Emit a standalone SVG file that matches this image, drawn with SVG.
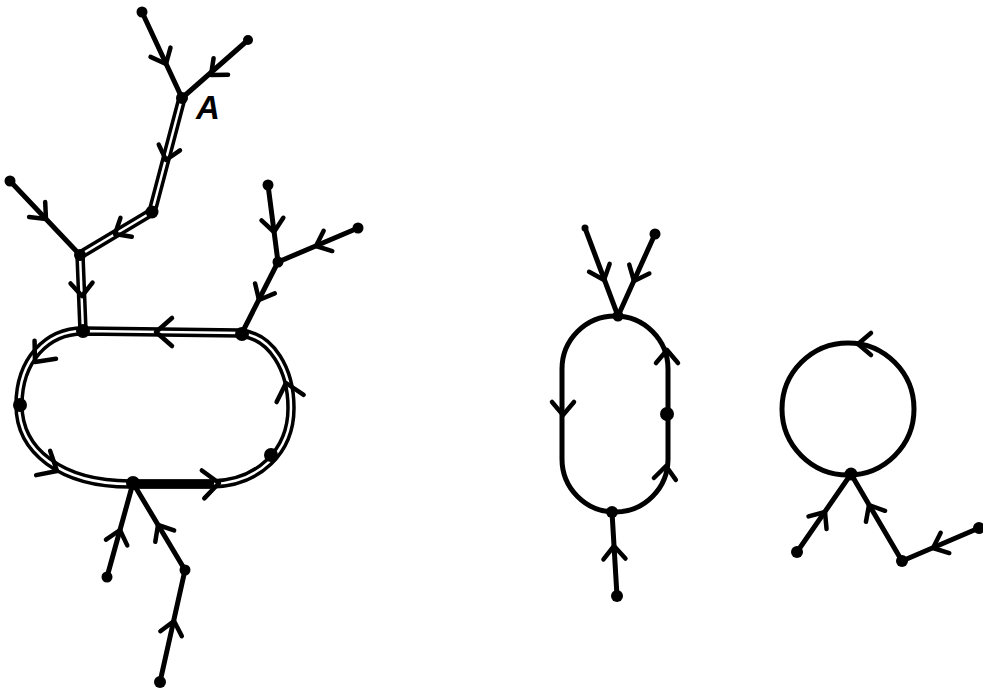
<svg xmlns="http://www.w3.org/2000/svg" width="983" height="692" viewBox="0 0 983 692">
<style>
.e{stroke:#000;stroke-width:5;fill:none;stroke-linecap:round;stroke-linejoin:round}
.d{stroke:#000;stroke-width:9.5;fill:none;stroke-linejoin:round}
.g{stroke:#fff;stroke-width:2.5;fill:none;stroke-linejoin:round}
.c{stroke:#000;stroke-width:4.5;fill:none;stroke-linecap:round;stroke-linejoin:round}
.n{fill:#000}
.lbl{font-family:"Liberation Sans",Arial,sans-serif;font-weight:bold;font-style:italic;font-size:33px;fill:#000}
</style>
<defs>
<path id="ch" class="c" d="M-13,-11 L0,0 L-13,11"/>
<path id="chL" class="c" d="M-16,-14 L0,0 L-16,14"/>
</defs>
<rect width="983" height="692" fill="#fff"/>
<g id="connectors">
  <!-- left figure: trees -->
  <path class="e" d="M142,12 L182,98"/>
  <path class="e" d="M248,40 L182,98"/>
  <path class="e" d="M10,181 L80,255"/>
  <path class="e" d="M268,185 L278,262"/>
  <path class="e" d="M358,228 L278,262"/>
  <path class="e" d="M278,262 L242,333"/>
  <path class="e" d="M133,483 L107,577"/>
  <path class="e" d="M133,483 L185,570"/>
  <path class="e" d="M185,570 L160,682"/>
  <path class="d" d="M182,98 L152,212 L80,255 L83,331"/>
  <path class="g" d="M182,98 L152,212 L80,255 L83,331"/>
  <!-- left figure: cycle (double) -->
  <path class="d" d="M83,331 L240,333 C272,336 291,370 291,408 C291,452 258,483 212,484 L130,484 C60,484 19,450 19,405 C19,360 47,331 83,331 Z"/>
  <path class="g" d="M83,331 L240,333 C272,336 291,370 291,408 C291,452 258,483 212,484 L130,484 C60,484 19,450 19,405 C19,360 47,331 83,331 Z"/>
  <path d="M133,484 L214,484" stroke="#000" stroke-width="9" fill="none"/>
  <!-- arrows left figure -->
  <use href="#ch" transform="translate(166,64) rotate(65)"/>
  <use href="#ch" transform="translate(211,75) rotate(139)"/>
  <use href="#ch" transform="translate(166,160) rotate(105)"/>
  <use href="#ch" transform="translate(115,234) rotate(149)"/>
  <use href="#ch" transform="translate(46,219) rotate(47)"/>
  <use href="#ch" transform="translate(82,296) rotate(88)"/>
  <use href="#ch" transform="translate(274,232) rotate(83)"/>
  <use href="#ch" transform="translate(316,246) rotate(157)"/>
  <use href="#ch" transform="translate(259,300) rotate(117)"/>
  <use href="#chL" transform="translate(156,332) rotate(180)"/>
  <use href="#chL" transform="translate(35,362) rotate(130)"/>
  <use href="#chL" transform="translate(57,471) rotate(30)"/>
  <use href="#chL" transform="translate(219,483) rotate(-5)"/>
  <use href="#chL" transform="translate(286,383) rotate(-105)"/>
  <use href="#ch" transform="translate(120,530) rotate(-75)"/>
  <use href="#ch" transform="translate(158,525) rotate(-121)"/>
  <use href="#ch" transform="translate(174,621) rotate(-77)"/>
  <!-- middle figure -->
  <rect x="562" y="316" width="106" height="196" rx="53" ry="53" class="e" style="stroke-width:5"/>
  <path class="e" d="M585,228 L618,316"/>
  <path class="e" d="M655,234 L618,316"/>
  <path class="e" d="M612,512 L617,596"/>
  <use href="#ch" transform="translate(604,280) rotate(69)"/>
  <use href="#ch" transform="translate(634,281) rotate(114)"/>
  <use href="#ch" transform="translate(667,350) rotate(-90)"/>
  <use href="#ch" transform="translate(666,466) rotate(-85)"/>
  <use href="#ch" transform="translate(563,415) rotate(90)"/>
  <use href="#ch" transform="translate(614,546) rotate(-92)"/>
  <!-- right figure -->
  <circle cx="848" cy="409" r="66" class="e" style="stroke-width:5"/>
  <path class="e" d="M797,552 L851,474"/>
  <path class="e" d="M902,561 L851,474"/>
  <path class="e" d="M979,528 L902,561"/>
  <use href="#ch" transform="translate(858,344) rotate(180)"/>
  <use href="#ch" transform="translate(825,512) rotate(-55)"/>
  <use href="#ch" transform="translate(869,505) rotate(-120)"/>
  <use href="#ch" transform="translate(933,548) rotate(157)"/>
</g>
<g id="n1"><circle class="n" cx="142" cy="12" r="5.5"/></g>
<g id="n2"><circle class="n" cx="248" cy="40" r="5"/></g>
<g id="nA"><circle class="n" cx="182" cy="98" r="6"/><text class="lbl" x="196" y="119">A</text></g>
<g id="n4"><circle class="n" cx="152" cy="212" r="6.5"/></g>
<g id="n5"><circle class="n" cx="10" cy="181" r="5.5"/></g>
<g id="n6"><circle class="n" cx="80" cy="255" r="6"/></g>
<g id="n7"><circle class="n" cx="268" cy="185" r="5.5"/></g>
<g id="n8"><circle class="n" cx="358" cy="228" r="5.5"/></g>
<g id="n9"><circle class="n" cx="278" cy="262" r="5.5"/></g>
<g id="c1"><circle class="n" cx="83" cy="331" r="7"/></g>
<g id="c2"><circle class="n" cx="242" cy="334" r="7"/></g>
<g id="c3"><circle class="n" cx="20" cy="405" r="7"/></g>
<g id="c4"><circle class="n" cx="271" cy="455" r="7"/></g>
<g id="c5"><circle class="n" cx="133" cy="483" r="7"/></g>
<g id="n10"><circle class="n" cx="107" cy="577" r="5.5"/></g>
<g id="n11"><circle class="n" cx="185" cy="570" r="5.5"/></g>
<g id="n12"><circle class="n" cx="160" cy="682" r="6"/></g>
<g id="m1"><circle class="n" cx="585" cy="228" r="3.5"/></g>
<g id="m2"><circle class="n" cx="655" cy="234" r="5.5"/></g>
<g id="m3"><circle class="n" cx="618" cy="316" r="5.5"/></g>
<g id="m4"><circle class="n" cx="667" cy="414" r="7"/></g>
<g id="m5"><circle class="n" cx="612" cy="512" r="6"/></g>
<g id="m6"><circle class="n" cx="617" cy="596" r="6"/></g>
<g id="r1"><circle class="n" cx="851" cy="474" r="6.5"/></g>
<g id="r2"><circle class="n" cx="797" cy="552" r="6"/></g>
<g id="r3"><circle class="n" cx="902" cy="561" r="6"/></g>
<g id="r4"><circle class="n" cx="979" cy="528" r="6"/></g>
</svg>
